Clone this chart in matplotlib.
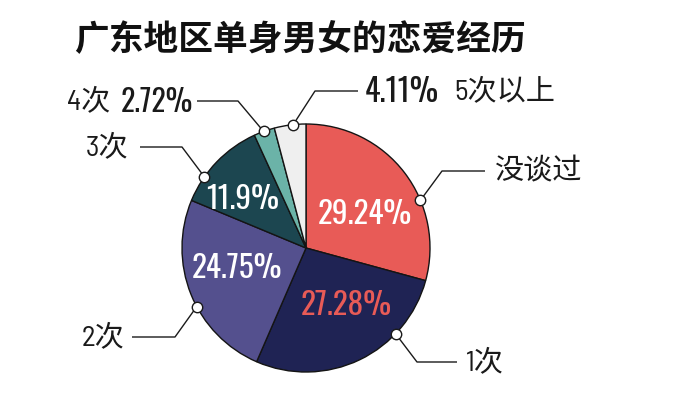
import matplotlib
matplotlib.use('Agg')
import matplotlib.pyplot as plt
import numpy as np

title = "广东地区单身男女的恋爱经历"
categories = ["没谈过", "1次", "2次", "3次", "4次", "5次以上"]
values = [29.24, 27.28, 24.75, 11.9, 2.72, 4.11]
pct_labels = ["29.24%", "27.28%", "24.75%", "11.9%", "2.72%", "4.11%"]
colors = ["#E85B57", "#1F2354", "#54508E", "#1C4650", "#6BB3A8", "#EFEFEF"]

CJK = ['Noto Sans CJK SC', 'DejaVu Sans']
NUM = ['Oswald', 'DejaVu Sans']
MIX = ['Barlow Semi Condensed', 'Noto Sans CJK SC', 'DejaVu Sans']

W, H = 676, 414
fig = plt.figure(figsize=(6.76, 4.14), dpi=100)
ax = fig.add_axes([0, 0, 1, 1])
cx, cy, R = 306, H - 249, 124
wedges, _ = ax.pie(values, colors=colors, startangle=90, counterclock=False,
                   center=(cx, cy), radius=R, frame=True,
                   wedgeprops=dict(edgecolor='#141414', linewidth=1.0))
ax.set_xlim(0, W)
ax.set_ylim(0, H)
ax.set_aspect('equal')
ax.axis('off')

# inside percentage labels (first four wedges)
in_r = [68, 70, 72, 81]
in_off = [-7, 10, -6, 6]
in_col = ['white', colors[0], 'white', 'white']
for i in range(4):
    w = wedges[i]
    a = np.deg2rad((w.theta1 + w.theta2) / 2 + in_off[i])
    ax.text(cx + in_r[i] * np.cos(a), cy + in_r[i] * np.sin(a), pct_labels[i],
            ha='center', va='center', fontsize=22.5, fontweight='semibold',
            family=NUM, color=in_col[i], zorder=5)

# leader lines with markers
anchor_frac = [0.64, 0.29, 0.43, 0.29, 0.47, 0.6]
elbow = [(442, 172), (417, 363), (175, 338), (182, 148), (238, 102), (315, 92)]
hend = [485, 457, 132, 140, 197, 358]
for i, w in enumerate(wedges):
    a = np.deg2rad(w.theta2 - anchor_frac[i] * (w.theta2 - w.theta1))
    mx, my = cx + R * np.cos(a), cy + R * np.sin(a)
    ex, ey = elbow[i][0], H - elbow[i][1]
    ax.plot([mx, ex, hend[i]], [my, ey, ey], color='#1a1a1a', lw=1.0, zorder=6,
            solid_capstyle='butt')
    ax.plot(mx, my, 'o', ms=7.5, mfc='white', mec='#1a1a1a', mew=1.0, zorder=7)

lab = dict(fontsize=21, family=MIX, color='#1a1a1a', va='center')
ax.text(495, H - 172, categories[0], ha='left', **lab)
ax.text(465, H - 363, categories[1], ha='left', **lab)
ax.text(124, H - 338, categories[2], ha='right', **lab)
ax.text(128, H - 148, categories[3], ha='right', **lab)
ax.text(110, H - 102, categories[4], ha='right', **lab)
ax.text(454, H - 92, categories[5], ha='left', **lab)
ax.text(193, H - 102, pct_labels[4], ha='right', va='center', fontsize=21.5,
        fontweight='semibold', family=NUM, color='#1a1a1a')
ax.text(365, H - 92, pct_labels[5], ha='left', va='center', fontsize=23,
        fontweight='light', family=NUM, color='#1a1a1a')

ax.text(74, H - 40, title, ha='left', va='center', fontsize=25,
        fontweight='bold', family=CJK, color='#111111')

fig.savefig('out.png', dpi=100)
